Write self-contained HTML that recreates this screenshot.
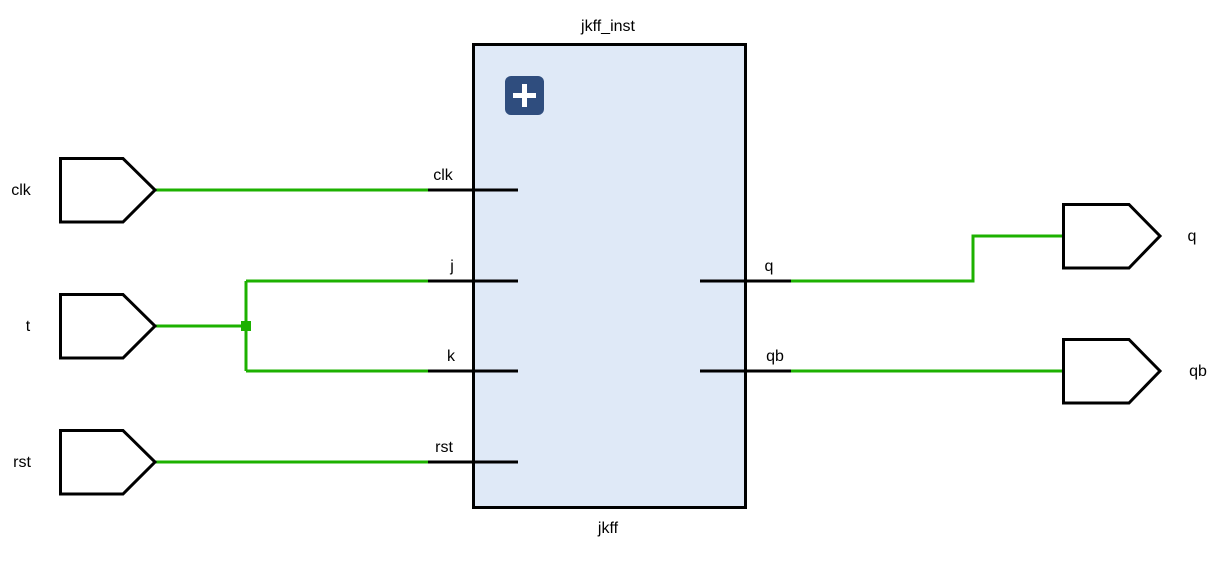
<!DOCTYPE html>
<html><head><meta charset="utf-8"><style>
html,body{margin:0;padding:0;background:#fff;}
svg{display:block;font-family:"Liberation Sans",sans-serif;}
text{font-size:16px;fill:#000;}
</style></head><body>
<svg width="1213" height="572" viewBox="0 0 1213 572">
<g>
<rect x="473.5" y="44.5" width="272" height="463" fill="#dfe9f7" stroke="#000" stroke-width="3"/>
</g>
<text x="608" y="31" text-anchor="middle">jkff_inst</text>
<text x="608" y="533" text-anchor="middle">jkff</text>
<g>
<rect x="505" y="76" width="39" height="39" rx="6" fill="#2f4d7e"/>
<rect x="513" y="93" width="23" height="5" fill="#fff"/>
<rect x="522" y="84" width="5" height="23" fill="#fff"/>
</g>
<g stroke="#1db100" stroke-width="3" fill="none">
<path d="M155 190H428"/>
<path d="M155 326H246M246 281V371M246 281H428M246 371H428"/>
<path d="M155 462H428"/>
<path d="M791 281H973V236H1063"/>
<path d="M791 371H1063"/>
</g>
<rect x="241" y="321" width="10" height="10" fill="#1db100"/>
<g stroke="#000" stroke-width="3">
<path d="M428 190H518M428 281H518M428 371H518M428 462H518M700 281H791M700 371H791"/>
</g>
<text x="443" y="180" text-anchor="middle">clk</text>
<text x="452" y="271" text-anchor="middle">j</text>
<text x="451" y="361" text-anchor="middle">k</text>
<text x="444" y="452" text-anchor="middle">rst</text>
<text x="769" y="271" text-anchor="middle">q</text>
<text x="775" y="361" text-anchor="middle">qb</text>
<g fill="#fff" stroke="#000" stroke-width="3">
<path d="M60.5 158.5H123L155 190L123 222H60.5Z"/>
<path d="M60.5 294.5H123L155 326L123 358H60.5Z"/>
<path d="M60.5 430.5H123L155 462L123 494H60.5Z"/>
<path d="M1063.5 204.5H1129L1160 236L1129 268H1063.5Z"/>
<path d="M1063.5 339.5H1129L1160 371L1129 403H1063.5Z"/>
</g>
<text x="21" y="195" text-anchor="middle">clk</text>
<text x="28" y="331" text-anchor="middle">t</text>
<text x="22" y="467" text-anchor="middle">rst</text>
<text x="1192" y="241" text-anchor="middle">q</text>
<text x="1198" y="376" text-anchor="middle">qb</text>
</svg>
</body></html>
